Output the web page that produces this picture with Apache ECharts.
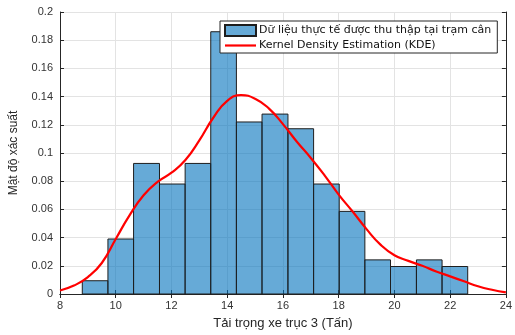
<!DOCTYPE html>
<html>
<head>
<meta charset="utf-8">
<script src="https://cdn.jsdelivr.net/npm/echarts@6/dist/echarts.min.js"></script>
<style>
  html, body { margin: 0; padding: 0; background: #fff; }
  #main { width: 515px; height: 335px; }
</style>
</head>
<body>
<div id="main"></div>
<script>
// bin edges (Tấn) and histogram densities
var binEdges = [8.80, 9.72, 10.64, 11.57, 12.49, 13.41, 14.33, 15.25, 16.18, 17.10, 18.02, 18.94, 19.86, 20.79, 21.71, 22.63];
var binHeights = [0.0094, 0.039, 0.0926, 0.078, 0.0926, 0.186, 0.122, 0.1276, 0.1172, 0.078, 0.0586, 0.0242, 0.0195, 0.0242, 0.0195];

// KDE curve
var kdeX = [8, 8.5, 9, 9.5, 10, 10.5, 11, 11.5, 12, 12.5, 13, 13.5, 14, 14.5, 15, 15.5, 16, 16.5, 17, 17.5, 18, 18.5, 19, 19.5, 20, 20.5, 21, 21.5, 22, 22.5, 23, 23.5, 24];
var kdeY = [0.0025, 0.006, 0.012, 0.022, 0.039, 0.056, 0.070, 0.0795, 0.086, 0.095, 0.109, 0.125, 0.137, 0.141, 0.1385, 0.1315, 0.1205, 0.108, 0.0965, 0.084, 0.0705, 0.0585, 0.046, 0.035, 0.0275, 0.0235, 0.020, 0.016, 0.0125, 0.009, 0.0055, 0.003, 0.0012];

var histName = "Dữ liệu thực tế được thu thập tại trạm cân";
var kdeName = "Kernel Density Estimation (KDE)";

var histData = binHeights.map(function (h, i) {
  return [binEdges[i], binEdges[i + 1], h];
});
var kdeData = kdeX.map(function (x, i) {
  return [x, kdeY[i]];
});

var container = document.getElementById("main");
var myChart = echarts.init(container);

var axisColor = "#262626";
var gridColor = "#e3e3e3";
var font = "Arial, 'Liberation Sans', sans-serif";

myChart.setOption({
  animation: false,
  textStyle: { fontFamily: font },
  grid: { left: 59, right: 7, top: 12, bottom: 38 },
  legend: {
    orient: "vertical",
    left: 220,
    top: 21,
    backgroundColor: "#fff",
    borderColor: axisColor,
    borderWidth: 1,
    borderRadius: 0,
    padding: [3, 6, 2, 4],
    itemGap: 3,
    itemWidth: 31,
    itemHeight: 11,
    textStyle: { fontSize: 11, fontFamily: "'DejaVu Sans', sans-serif", color: "#111", padding: [0, 0, 0, -2] },
    data: [
      { name: histName, icon: "rect" },
      // line icon with no marker
      { name: kdeName, icon: "path://M0,0 M0,4.4 L31,4.4 L31,6.6 L0,6.6 Z M31,11" }
    ]
  },
  xAxis: [
    {
      type: "value",
      min: 8,
      max: 24,
      interval: 2,
      name: "Tải trọng xe trục 3 (Tấn)",
      nameLocation: "middle",
      nameGap: 23,
      nameTextStyle: { fontSize: 13, color: axisColor },
      axisLine: { lineStyle: { color: axisColor } },
      axisTick: { inside: true, length: 4, lineStyle: { color: axisColor } },
      axisLabel: { fontSize: 11, color: "#333", margin: 6 },
      splitLine: { show: true, lineStyle: { color: gridColor } }
    },
    {
      type: "value",
      position: "top",
      min: 8,
      max: 24,
      interval: 2,
      axisLine: { show: true, lineStyle: { color: axisColor } },
      axisTick: { show: true, inside: true, length: 4, lineStyle: { color: axisColor } },
      axisLabel: { show: false },
      splitLine: { show: false }
    }
  ],
  yAxis: [
    {
      type: "value",
      min: 0,
      max: 0.2,
      interval: 0.02,
      name: "Mật độ xác suất",
      nameLocation: "middle",
      nameGap: 40,
      nameTextStyle: { fontSize: 12, color: axisColor },
      axisLine: { show: true, lineStyle: { color: axisColor } },
      axisTick: { show: true, inside: true, length: 4, lineStyle: { color: axisColor } },
      axisLabel: { fontSize: 11, color: "#333", margin: 7 },
      splitLine: { show: true, lineStyle: { color: gridColor } }
    },
    {
      type: "value",
      position: "right",
      min: 0,
      max: 0.2,
      interval: 0.02,
      axisLine: { show: true, lineStyle: { color: axisColor } },
      axisTick: { show: true, inside: true, length: 4, lineStyle: { color: axisColor } },
      axisLabel: { show: false },
      splitLine: { show: false }
    }
  ],
  series: [
    {
      name: histName,
      type: "custom",
      xAxisIndex: 0,
      yAxisIndex: 0,
      itemStyle: { color: "rgba(0,114,189,0.6)", borderColor: "#1e1e1e", borderWidth: 1 },
      encode: { x: [0, 1], y: 2 },
      data: histData,
      renderItem: function (params, api) {
        var p0 = api.coord([api.value(0), api.value(2)]);
        var p1 = api.coord([api.value(1), 0]);
        return {
          type: "rect",
          shape: { x: p0[0], y: p0[1], width: p1[0] - p0[0], height: p1[1] - p0[1] },
          style: { fill: "rgba(0,114,189,0.6)", stroke: "#1e1e1e", lineWidth: 1 }
        };
      }
    },
    {
      name: kdeName,
      type: "line",
      xAxisIndex: 0,
      yAxisIndex: 0,
      smooth: 0.5,
      symbol: "none",
      showSymbol: false,
      z: 5,
      lineStyle: { color: "#ff0000", width: 2.2 },
      itemStyle: { color: "#ff0000" },
      data: kdeData
    }
  ]
});
</script>
</body>
</html>
